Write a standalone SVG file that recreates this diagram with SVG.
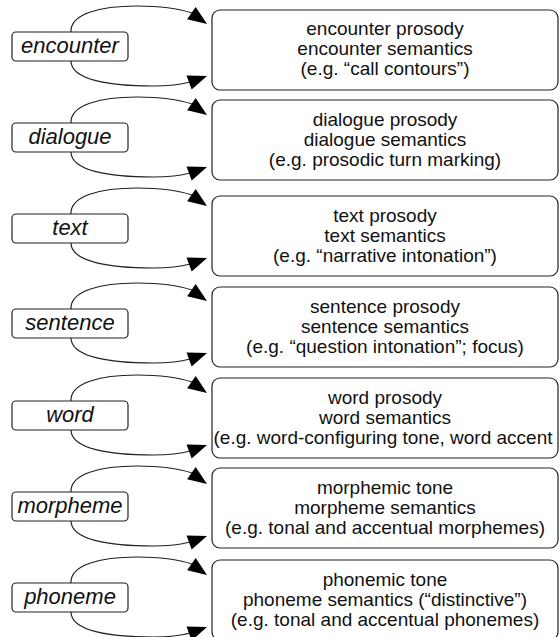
<svg xmlns="http://www.w3.org/2000/svg" width="560" height="637" viewBox="0 0 560 637">
<style>
.lbox{fill:#fff;stroke:#222;stroke-width:1.2}
.rbox{fill:#fff;stroke:#222;stroke-width:1.2}
.lbl{font-family:"Liberation Sans",Arial,sans-serif;font-size:22px;font-style:italic;fill:#111;text-anchor:middle}
.txt{font-family:"Liberation Sans",Arial,sans-serif;font-size:19px;fill:#111;text-anchor:middle}
.con{fill:none;stroke:#222;stroke-width:1.2}
.ah{fill:#000;stroke:none}
</style>
<defs>
<g id="pair">
<path class="con" d="M71,0 C70,-18 100,-26 137,-26 C162,-26 180,-23 192,-19"/>
<polygon class="ah" points="207,-8 195.7,-25 187.1,-12.8"/>
<path class="con" d="M71,29 C71,48 110,54 153,54 C174,54 183,52 190,50"/>
<polygon class="ah" points="207,44 191.7,57.6 186.5,43.5"/>
</g>
</defs>
<g id="connectors">
<use href="#pair" transform="translate(0,32)"/>
<use href="#pair" transform="translate(0,123)"/>
<use href="#pair" transform="translate(0,214)"/>
<use href="#pair" transform="translate(0,309)"/>
<use href="#pair" transform="translate(0,401)"/>
<use href="#pair" transform="translate(0,492)"/>
<use href="#pair" transform="translate(0,583)"/>
</g>
<g id="encounter"><rect class="lbox" x="12" y="32" width="116" height="29" rx="4"/><text class="lbl" x="70" y="53">encounter</text></g>
<g id="dialogue"><rect class="lbox" x="12" y="123" width="116" height="29" rx="4"/><text class="lbl" x="70" y="144">dialogue</text></g>
<g id="text"><rect class="lbox" x="12" y="214" width="116" height="29" rx="4"/><text class="lbl" x="70" y="235">text</text></g>
<g id="sentence"><rect class="lbox" x="12" y="309" width="116" height="29" rx="4"/><text class="lbl" x="70" y="330">sentence</text></g>
<g id="word"><rect class="lbox" x="12" y="401" width="116" height="29" rx="4"/><text class="lbl" x="70" y="422">word</text></g>
<g id="morpheme"><rect class="lbox" x="12" y="492" width="116" height="29" rx="4"/><text class="lbl" x="70" y="513">morpheme</text></g>
<g id="phoneme"><rect class="lbox" x="12" y="583" width="116" height="29" rx="4"/><text class="lbl" x="70" y="604">phoneme</text></g>

<g id="encounter-level"><rect class="rbox" x="212" y="10" width="346" height="80" rx="8"/>
<text class="txt" x="385" y="35">encounter prosody</text><text class="txt" x="385" y="55">encounter semantics</text><text class="txt" x="385" y="75">(e.g. “call contours”)</text></g>
<g id="dialogue-level"><rect class="rbox" x="212" y="100" width="346" height="80" rx="8"/>
<text class="txt" x="385" y="126">dialogue prosody</text><text class="txt" x="385" y="146">dialogue semantics</text><text class="txt" x="385" y="166">(e.g. prosodic turn marking)</text></g>
<g id="text-level"><rect class="rbox" x="212" y="196" width="346" height="80" rx="8"/>
<text class="txt" x="385" y="222">text prosody</text><text class="txt" x="385" y="242">text semantics</text><text class="txt" x="385" y="262">(e.g. “narrative intonation”)</text></g>
<g id="sentence-level"><rect class="rbox" x="212" y="287" width="346" height="80" rx="8"/>
<text class="txt" x="385" y="313">sentence prosody</text><text class="txt" x="385" y="333">sentence semantics</text><text class="txt" x="385" y="353">(e.g. “question intonation”; focus)</text></g>
<g id="word-level"><rect class="rbox" x="212" y="378" width="346" height="80" rx="8"/>
<text class="txt" x="385" y="404">word prosody</text><text class="txt" x="385" y="424">word semantics</text><text class="txt" x="383" y="444">(e.g. word-configuring tone, word accent</text></g>
<g id="morpheme-level"><rect class="rbox" x="212" y="468" width="346" height="80" rx="8"/>
<text class="txt" x="385" y="494">morphemic tone</text><text class="txt" x="385" y="514">morpheme semantics</text><text class="txt" x="385" y="534">(e.g. tonal and accentual morphemes)</text></g>
<g id="phoneme-level"><rect class="rbox" x="212" y="560" width="346" height="80" rx="8"/>
<text class="txt" x="385" y="586">phonemic tone</text><text class="txt" x="385" y="606">phoneme semantics (“distinctive”)</text><text class="txt" x="385" y="626">(e.g. tonal and accentual phonemes)</text></g>
</svg>
